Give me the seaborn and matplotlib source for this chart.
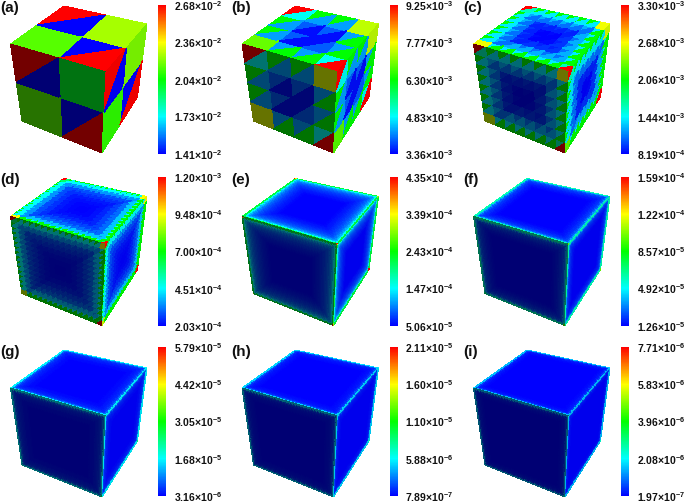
import numpy as np
import matplotlib
matplotlib.use("Agg")
import matplotlib.pyplot as plt
from matplotlib.collections import PolyCollection
from matplotlib.colors import ListedColormap, Normalize
import seaborn as sns

sns.set_theme(style="white")
plt.rcParams['font.family'] = ['Liberation Sans', 'DejaVu Sans']
plt.rcParams['mathtext.fontset'] = 'custom'
plt.rcParams['mathtext.bf'] = 'Liberation Sans:bold'
plt.rcParams['mathtext.rm'] = 'Liberation Sans:bold'

W, H = 685, 501
PANEL_NAMES = ['(a)', '(b)', '(c)', '(d)', '(e)', '(f)', '(g)', '(h)', '(i)']

# colour-bar tick values of every panel, top to bottom
TICKS_A = [2.68e-2, 2.36e-2, 2.04e-2, 1.73e-2, 1.41e-2]
TICKS_B = [9.25e-3, 7.77e-3, 6.30e-3, 4.83e-3, 3.36e-3]
TICKS_C = [3.30e-3, 2.68e-3, 2.06e-3, 1.44e-3, 8.19e-4]
TICKS_D = [1.20e-3, 9.48e-4, 7.00e-4, 4.51e-4, 2.03e-4]
TICKS_E = [4.35e-4, 3.39e-4, 2.43e-4, 1.47e-4, 5.06e-5]
TICKS_F = [1.59e-4, 1.22e-4, 8.57e-5, 4.92e-5, 1.26e-5]
TICKS_G = [5.79e-5, 4.42e-5, 3.05e-5, 1.68e-5, 3.16e-6]
TICKS_H = [2.11e-5, 1.60e-5, 1.10e-5, 5.88e-6, 7.89e-7]
TICKS_I = [7.71e-6, 5.83e-6, 3.96e-6, 2.08e-6, 1.97e-7]

# mesh cells per cube edge, per panel
CELLS = [2, 4, 8, 16, 64, 64, 64, 64, 64]

# value of triangles on the outer side / inner side of each ring of cells, edge to centre
RING_OUT_A = [2.04e-2]
RING_IN_A = [1.41e-2]
RING_OUT_B = [6.3e-3, 3.9e-3]
RING_IN_B = [4.3e-3, 3.45e-3]
RING_OUT_C = [2.05e-3, 1.25e-3, 9.5e-4, 8.4e-4]
RING_IN_C = [1.4e-3, 1.1e-3, 9.0e-4, 8.2e-4]
RING_OUT_D = [7.0e-4, 4.0e-4, 3.1e-4, 2.7e-4, 2.4e-4, 2.2e-4, 2.1e-4, 2.05e-4]
RING_IN_D = [4.6e-4, 3.5e-4, 2.8e-4, 2.5e-4, 2.3e-4, 2.15e-4, 2.08e-4, 2.03e-4]
RING_E = [2.2e-4, 1.5e-4, 1.2e-4, 1.05e-4, 9.5e-5, 8.8e-5, 8.2e-5, 7.7e-5, 7.3e-5, 7.0e-5, 6.7e-5,
          6.4e-5, 6.1e-5, 5.9e-5, 5.7e-5, 5.5e-5, 5.3e-5, 5.2e-5, 5.06e-5]
RING_F = [6.0e-5, 3.6e-5, 2.6e-5, 2.2e-5, 2.0e-5, 1.85e-5, 1.7e-5, 1.6e-5,
          1.5e-5, 1.42e-5, 1.36e-5, 1.3e-5, 1.26e-5]
RING_G = [1.6e-5, 9.0e-6, 6.5e-6, 5.5e-6, 5.0e-6, 4.6e-6, 4.3e-6, 4.0e-6,
          3.8e-6, 3.6e-6, 3.45e-6, 3.3e-6, 3.16e-6]
RING_H = [5.0e-6, 2.4e-6, 1.6e-6, 1.3e-6, 1.15e-6, 1.05e-6, 9.8e-7, 9.0e-7, 8.4e-7, 7.89e-7]
RING_I = [1.6e-6, 6.5e-7, 4.0e-7, 3.2e-7, 2.8e-7, 2.5e-7, 2.2e-7, 1.97e-7]
RINGS_OUT = [RING_OUT_A, RING_OUT_B, RING_OUT_C, RING_OUT_D, RING_E, RING_F, RING_G, RING_H, RING_I]
RINGS_IN = [RING_IN_A, RING_IN_B, RING_IN_C, RING_IN_D, RING_E, RING_F, RING_G, RING_H, RING_I]

# tip triangle at the two hot corners of a face, and the triangle next to it
HOT_TIP = [2.68e-2, 9.25e-3, 3.30e-3, 1.20e-3, 4.35e-4, 1.0e-4, 2.4e-5, 7.0e-6, 2.4e-6]
HOT_NEXT = [1.41e-2, 4.9e-3, 1.6e-3, 6.0e-4, 3.4e-4, 6.0e-5, 1.6e-5, 5.0e-6, 1.6e-6]
# value of the cool corner cells of the faces: top (2), left (2), right (2)
COOL_A = [2.15e-2, 2.25e-2, 2.0e-2, 2.15e-2, 2.2e-2, 2.1e-2]
COOL_B = [6.9e-3, 7.4e-3, 7.6e-3, 7.6e-3, 7.4e-3, 6.8e-3]
COOL_C = [2.65e-3, 2.65e-3, 2.65e-3, 2.55e-3, 2.6e-3, 2.3e-3]
COOL_D = [9.5e-4, 9.5e-4, 9.5e-4, 9.0e-4, 9.5e-4, 9.0e-4]
COOL_E = [3.0e-4] * 6
COOL_F = [7.0e-5] * 6
COOL_G = [1.8e-5] * 6
COOL_H = [5.5e-6] * 6
COOL_I = [1.8e-6] * 6
COOLS = [COOL_A, COOL_B, COOL_C, COOL_D, COOL_E, COOL_F, COOL_G, COOL_H, COOL_I]
TICKS = [TICKS_A, TICKS_B, TICKS_C, TICKS_D, TICKS_E, TICKS_F, TICKS_G, TICKS_H, TICKS_I]

# projected cube corners (pixels inside a panel)
T, L, R, F = (64, 6), (10.5, 44), (147, 24), (106, 72)
B, LB, RB = (102, 153), (22, 121), (137.5, 97)
FACES = [(T, L, R, F, 1.0), (L, F, LB, B, 0.45), (F, R, B, RB, 0.93)]

cmap = sns.blend_palette(['#0000ff', '#00ffff', '#00ff00', '#ffff00', '#ff0000'], n_colors=256, as_cmap=True)


def face_triangles(A, D1, D2, C, n):
    grid = np.linspace(0, 1, n + 1)
    u, v = np.meshgrid(grid, grid, indexing='ij')
    A, D1, D2, C = map(np.asarray, (A, D1, D2, C))
    P = (((1 - u) * (1 - v))[..., None] * A + (u * (1 - v))[..., None] * D1
         + ((1 - u) * v)[..., None] * D2 + (u * v)[..., None] * C)
    lower = np.stack([P[:-1, :-1], P[1:, :-1], P[:-1, 1:]], axis=2)
    upper = np.stack([P[1:, 1:], P[1:, :-1], P[:-1, 1:]], axis=2)
    return lower.reshape(-1, 3, 2), upper.reshape(-1, 3, 2)


def face_values(n, ring_out, ring_in, tip, nxt, cool1, cool2):
    lower = np.zeros((n, n))
    upper = np.zeros((n, n))
    for i in range(n):
        for j in range(n):
            r = min(i, j, n - 1 - i, n - 1 - j)
            ro = ring_out[min(r, len(ring_out) - 1)]
            ri = ring_in[min(r, len(ring_in) - 1)]
            if min(i, j) <= min(n - 1 - i, n - 1 - j):
                lower[i, j], upper[i, j] = ro, ri
            else:
                lower[i, j], upper[i, j] = ri, ro
    lower[0, 0], upper[0, 0] = tip, nxt
    lower[-1, -1], upper[-1, -1] = nxt, tip
    lower[-1, 0] = upper[-1, 0] = cool1
    lower[0, -1] = upper[0, -1] = cool2
    return lower.ravel(), upper.ravel()


def tick_label(v):
    m, e = f"{v:.2e}".split('e')
    return rf"$\mathbf{{{m}}}\!\times\!\mathbf{{10^{{{int(e)}}}}}$"


fig = plt.figure(figsize=(W / 100, H / 100), dpi=100)
COL_X = [0, 231.5, 463]
ROW_Y = [0, 172.5, 344]
BAR_Y = [5, 176.7, 347]
for k, name in enumerate(PANEL_NAMES):
    ox, oy = COL_X[k % 3], ROW_Y[k // 3]
    ticks = TICKS[k]
    vmax, vmin = ticks[0], ticks[-1]
    norm = Normalize(vmin, vmax)
    pw, ph = 157, 157
    ax = fig.add_axes([ox / W, 1 - (oy + ph) / H, pw / W, ph / H])
    ax.set_xlim(0, pw)
    ax.set_ylim(ph, 0)
    ax.axis('off')
    for f, (A, D1, D2, C, shade) in enumerate(FACES):
        face_cmap = ListedColormap(cmap(np.arange(256)) * np.array([shade, shade, shade, 1]))
        lo, up = face_triangles(A, D1, D2, C, CELLS[k])
        vlo, vup = face_values(CELLS[k], RINGS_OUT[k], RINGS_IN[k], HOT_TIP[k], HOT_NEXT[k],
                               COOLS[k][2 * f], COOLS[k][2 * f + 1])
        pc = PolyCollection(np.concatenate([lo, up]), array=np.concatenate([vlo, vup]),
                            cmap=face_cmap, norm=norm, edgecolors='none', linewidths=0,
                            antialiased=False)
        ax.add_collection(pc)
    ax.text(0, 8, name, fontsize=11, fontweight='bold', va='center', ha='left',
            color='#111111', clip_on=False)

    cax = fig.add_axes([(ox + 158) / W, 1 - (BAR_Y[k // 3] + 149) / H, 8 / W, 149 / H])
    strip = np.linspace(vmax, vmin, 256)[:, None]
    sns.heatmap(strip, ax=cax, cmap=cmap, vmin=vmin, vmax=vmax, cbar=False,
                xticklabels=False, yticklabels=False)
    cax.yaxis.tick_right()
    cax.set_yticks([(vmax - t) / (vmax - vmin) * 256 for t in ticks])
    cax.set_yticklabels([tick_label(t) for t in ticks], fontsize=7.5, rotation=0, color='#111111')
    cax.tick_params(axis='y', length=0, pad=5.5, labelright=True, labelleft=False)

fig.savefig('out.png', dpi=100)
